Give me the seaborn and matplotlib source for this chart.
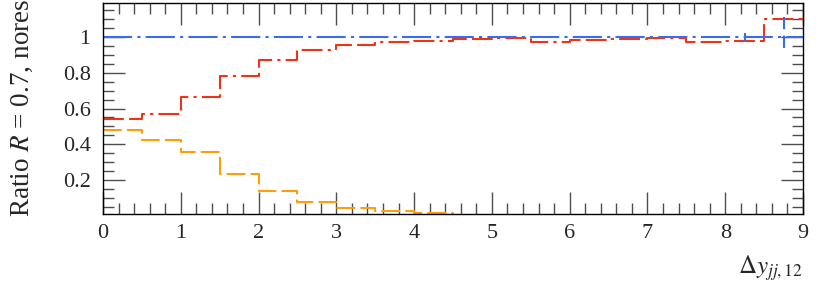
import matplotlib
matplotlib.use("Agg")
import matplotlib.pyplot as plt
import seaborn as sns
from matplotlib.ticker import MultipleLocator, FixedLocator, FixedFormatter

sns.set_theme(style="ticks")
plt.rcParams['font.family'] = ['Liberation Serif', 'DejaVu Serif']
plt.rcParams['mathtext.fontset'] = 'stix'

# bords des bins en Delta y
bins = [0.0, 0.5, 1.0, 1.5, 2.0, 2.5, 3.0, 3.5, 4.0, 4.5,
        5.0, 5.5, 6.0, 6.5, 7.0, 7.5, 8.0, 8.5, 9.0]

# ratios par bin
ratio_ref = [1.0, 1.0, 1.0, 1.0, 1.0, 1.0, 1.0, 1.0, 1.0,
             1.0, 1.0, 1.0, 1.0, 1.0, 1.0, 1.0, 1.0, 1.0]
ratio_ref_err_bas = [0.0, 0.0, 0.0, 0.0, 0.0, 0.0, 0.0, 0.0, 0.0,
                     0.0, 0.0, 0.0, 0.0, 0.0, 0.0, 0.0, 0.02, 0.063]
ratio_ref_err_haut = [0.0, 0.0, 0.0, 0.0, 0.0, 0.0, 0.0, 0.0, 0.0,
                      0.0, 0.0, 0.0, 0.0, 0.0, 0.0, 0.0, 0.02, 0.114]
ratio_rouge = [0.54, 0.57, 0.665, 0.78, 0.87, 0.927, 0.955, 0.970, 0.979,
               0.987, 0.993, 0.974, 0.983, 0.987, 0.993, 0.970, 0.979, 1.099]
ratio_orange = [0.479, 0.426, 0.354, 0.236, 0.138, 0.078, 0.043, 0.024, 0.018,
                0.006, 0.004, 0.003, 0.002, 0.001, 0.001, 0.0, 0.0, 0.0]

yticks = [0.2, 0.4, 0.6, 0.8, 1.0]
ytick_labels = ["0.2", "0.4", "0.6", "0.8", "1"]

fig = plt.figure(figsize=(8.3, 2.84), dpi=100)
ax = fig.add_axes([0.1241, 0.2465, 0.8434, 0.7429])


def escalier(vals):
    # pour steps-post on répète la dernière valeur
    return vals + [vals[-1]]


sns.lineplot(x=bins, y=escalier(ratio_orange), ax=ax, color="#ff9d0a",
             linewidth=1.5, drawstyle="steps-post", linestyle=(0, (9, 2.5)))
sns.lineplot(x=bins, y=escalier(ratio_rouge), ax=ax, color="#ee3418",
             linewidth=1.5, drawstyle="steps-post",
             linestyle=(0, (10, 2.5, 10, 2.5, 1.5, 2.5)))
sns.lineplot(x=bins, y=escalier(ratio_ref), ax=ax, color="#3a6cf2",
             linewidth=1.5, drawstyle="steps-post",
             linestyle=(0, (14, 2.5, 1.5, 2.5)))

# barres d'erreur de la référence
centres = [(bins[i] + bins[i + 1]) / 2 for i in range(len(ratio_ref))]
for c, v, lo, hi in zip(centres, ratio_ref, ratio_ref_err_bas, ratio_ref_err_haut):
    if lo > 0 or hi > 0:
        ax.plot([c, c], [v - lo, v + hi], color="#3a6cf2", linewidth=1.5,
                linestyle=(0, (6, 3)))

ax.set_xlim(0, 9)
ax.set_ylim(0.01, 1.19)
ax.xaxis.set_major_locator(MultipleLocator(1))
ax.xaxis.set_minor_locator(MultipleLocator(0.2))
ax.yaxis.set_major_locator(FixedLocator(yticks))
ax.yaxis.set_major_formatter(FixedFormatter(ytick_labels))
ax.yaxis.set_minor_locator(MultipleLocator(0.05))

ax.tick_params(which="both", direction="in", top=True, right=True,
               color="0.3", width=1)
ax.tick_params(which="major", length=15.8, labelsize=16)
ax.tick_params(which="minor", length=7.9)
ax.tick_params(axis="y", pad=9)
ax.tick_params(axis="x", pad=7)
for s in ax.spines.values():
    s.set_color("black")
    s.set_linewidth(1)

fig.text(0.027, 0.236, "Ratio $R$ = 0.7, nores", rotation=90,
         ha="center", va="bottom", fontsize=19.5)
fig.text(0.9675, 1 - 268 / 284, r"$\Delta y_{jj,12}$", ha="right",
         va="center", fontsize=18)

fig.savefig("out.png", dpi=100)
